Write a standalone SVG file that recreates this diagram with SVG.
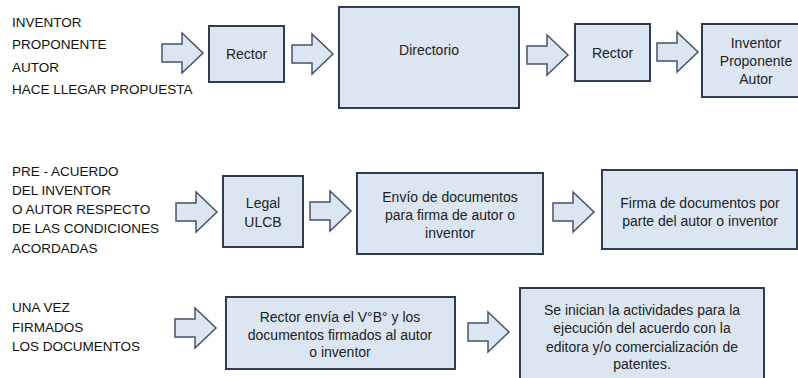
<svg xmlns="http://www.w3.org/2000/svg" xmlns:xlink="http://www.w3.org/1999/xlink" width="798" height="378" viewBox="0 0 798 378">
<style>
.box{fill:#dce6f2;stroke:#2e3d52;stroke-width:2}
.arr{fill:#dce6f2;stroke:#44546a;stroke-width:1.5;stroke-linejoin:miter}
.lbl{font-family:"Liberation Sans",Arial,sans-serif;font-size:13.5px;fill:#111}
.t{font-family:"Liberation Sans",Arial,sans-serif;font-size:14px;fill:#222;text-anchor:middle}
</style>
<defs>
<polygon id="ar" class="arr" points="0,11 20,11 20,0 41,20 20,40 20,29 0,29"/>
</defs>
<rect width="798" height="378" fill="#fff"/>
<g id="connectors">
<use xlink:href="#ar" x="162" y="33"/>
<use xlink:href="#ar" x="292" y="34"/>
<use xlink:href="#ar" x="527" y="35"/>
<use xlink:href="#ar" x="657" y="32"/>
<use xlink:href="#ar" x="176" y="192"/>
<use xlink:href="#ar" x="310" y="191"/>
<use xlink:href="#ar" x="553" y="192"/>
<use xlink:href="#ar" x="175" y="308"/>
<use xlink:href="#ar" x="468" y="312"/>
</g>
<g id="label1" class="lbl">
<text x="12" y="27">INVENTOR</text>
<text x="12" y="49">PROPONENTE</text>
<text x="12" y="72">AUTOR</text>
<text x="12" y="94">HACE LLEGAR PROPUESTA</text>
</g>
<g id="rector1"><rect class="box" x="209" y="26" width="75" height="56"/><text class="t" x="246.5" y="59">Rector</text></g>
<g id="directorio"><rect class="box" x="339" y="7" width="180" height="101"/><text class="t" x="429" y="55">Directorio</text></g>
<g id="rector2"><rect class="box" x="575" y="24" width="75" height="57"/><text class="t" x="612.5" y="58">Rector</text></g>
<g id="inventor"><rect class="box" x="702" y="24" width="100" height="73"/>
<text class="t" x="756" y="48">Inventor</text><text class="t" x="756" y="66">Proponente</text><text class="t" x="756" y="84">Autor</text></g>
<g id="label2" class="lbl">
<text x="12" y="176">PRE - ACUERDO</text>
<text x="12" y="195">DEL INVENTOR</text>
<text x="12" y="214">O AUTOR RESPECTO</text>
<text x="12" y="233">DE LAS CONDICIONES</text>
<text x="12" y="253">ACORDADAS</text>
</g>
<g id="legal"><rect class="box" x="223" y="176" width="80" height="71"/>
<text class="t" x="263" y="208">Legal</text><text class="t" x="263" y="227">ULCB</text></g>
<g id="envio"><rect class="box" x="357" y="173" width="186" height="81"/>
<text class="t" x="450" y="202">Envío de documentos</text><text class="t" x="450" y="220">para firma de autor o</text><text class="t" x="450" y="238">inventor</text></g>
<g id="firma"><rect class="box" x="602" y="170" width="195" height="79"/>
<text class="t" x="700" y="208">Firma de documentos por</text><text class="t" x="700" y="226">parte del autor o inventor</text></g>
<g id="label3" class="lbl">
<text x="12" y="312">UNA VEZ</text>
<text x="12" y="332">FIRMADOS</text>
<text x="12" y="351">LOS DOCUMENTOS</text>
</g>
<g id="rectorEnvia"><rect class="box" x="226" y="297" width="229" height="72"/>
<text class="t" x="340" y="322">Rector envía el V°B° y los</text><text class="t" x="340" y="340">documentos firmados al autor</text><text class="t" x="340" y="357">o inventor</text></g>
<g id="inician"><rect class="box" x="520" y="288" width="244" height="100"/>
<text class="t" x="642" y="315">Se inician la actividades para la</text><text class="t" x="642" y="333">ejecución del acuerdo con la</text><text class="t" x="642" y="352">editora y/o comercialización de</text><text class="t" x="642" y="369">patentes.</text></g>
</svg>
